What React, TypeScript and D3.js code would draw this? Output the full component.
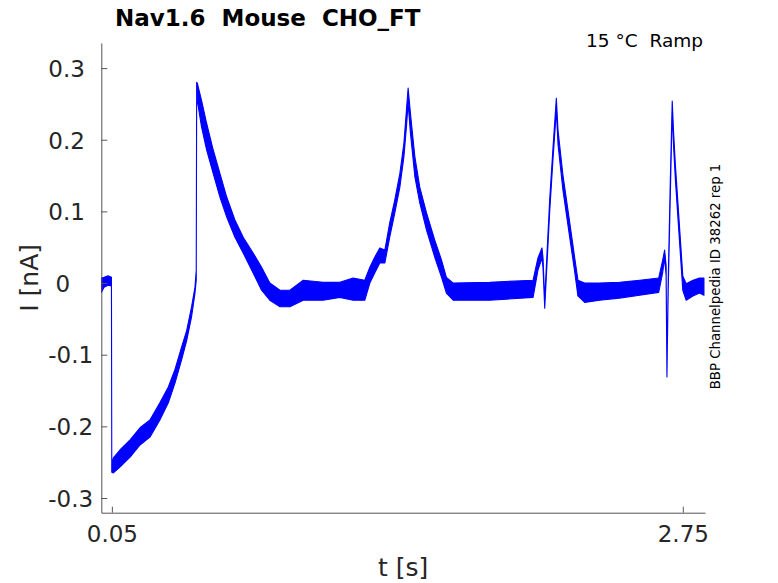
import React, { useRef, useEffect } from 'react'
import * as d3 from 'd3'

// envelope of the overlaid sweeps
// time [s], top and bottom of the trace band [nA]
const time = [
  0.001, 0.013, 0.032, 0.048, 0.0496, 0.057, 0.088, 0.136, 0.183, 0.23,
  0.277, 0.317, 0.348, 0.38, 0.404, 0.427, 0.443, 0.449, 0.451, 0.454,
  0.474, 0.498, 0.529, 0.561, 0.593, 0.632, 0.671, 0.718, 0.758, 0.797,
  0.845, 0.892, 0.955, 1.049, 1.128, 1.191, 1.246, 1.27, 1.293, 1.317,
  1.341, 1.364, 1.388, 1.412, 1.431, 1.443, 1.451, 1.462, 1.483, 1.506,
  1.538, 1.577, 1.609, 1.632, 1.664, 1.837, 2.042, 2.065, 2.084, 2.089,
  2.097, 2.105, 2.121, 2.136, 2.152, 2.16, 2.183, 2.215, 2.239, 2.254,
  2.286, 2.357, 2.451, 2.546, 2.636, 2.655, 2.664, 2.671, 2.675, 2.681,
  2.691, 2.7, 2.706, 2.715, 2.734, 2.75, 2.766, 2.798, 2.829, 2.85,
]
const upper = [
  0.007, 0.008, 0.01, 0.008, -0.254, -0.244, -0.233, -0.219, -0.202, -0.191,
  -0.167, -0.145, -0.121, -0.089, -0.066, -0.033, -0.006, 0.018, 0.28, 0.279,
  0.255, 0.223, 0.186, 0.153, 0.12, 0.088, 0.064, 0.042, 0.022, 0.0,
  -0.01, -0.01, 0.004, 0.001, 0.001, 0.007, 0.004, 0.022, 0.036, 0.049,
  0.046, 0.084, 0.116, 0.153, 0.195, 0.241, 0.272, 0.237, 0.176, 0.134,
  0.098, 0.06, 0.032, 0.008, 0.0, 0.001, 0.004, 0.035, 0.049, 0.035,
  -0.024, 0.025, 0.119, 0.188, 0.258, 0.213, 0.151, 0.085, 0.035, 0.004,
  0.0, 0.0, 0.001, 0.004, 0.007, 0.032, 0.046, 0.025, -0.121, 0.004,
  0.144, 0.254, 0.213, 0.165, 0.081, 0.01, -0.001, 0.004, 0.007, 0.007,
]
const lower = [
  -0.013, -0.006, -0.003, -0.004, -0.264, -0.265, -0.257, -0.243, -0.226, -0.215,
  -0.191, -0.167, -0.14, -0.107, -0.08, -0.047, -0.014, 0.004, 0.272, 0.255,
  0.218, 0.186, 0.153, 0.12, 0.092, 0.064, 0.042, 0.014, -0.01, -0.024,
  -0.033, -0.033, -0.024, -0.024, -0.02, -0.024, -0.024, 0.0, 0.014, 0.028,
  0.028, 0.064, 0.098, 0.134, 0.176, 0.218, 0.251, 0.209, 0.148, 0.112,
  0.074, 0.036, 0.008, -0.014, -0.024, -0.024, -0.02, 0.018, 0.035, 0.021,
  -0.035, 0.011, 0.102, 0.172, 0.241, 0.193, 0.13, 0.064, 0.015, -0.018,
  -0.027, -0.024, -0.021, -0.017, -0.013, 0.015, 0.035, 0.011, -0.131, -0.01,
  0.123, 0.241, 0.193, 0.144, 0.06, -0.01, -0.024, -0.018, -0.014, -0.017,
]

const xTicks = [0.05, 2.75]
const xTickLabels = ['0.05', '2.75']
const yTicks = [0.3, 0.2, 0.1, 0, -0.1, -0.2, -0.3]
// labels are left aligned, the zero carries a leading space
const yTickLabels = ['0.3', '0.2', '0.1', ' 0', '-0.1', '-0.2', '-0.3']

const W = 778
const H = 583
const font = '"DejaVu Sans", sans-serif'
const ink = '#262626'

const App: React.FC = () => {
  const svgRef = useRef<SVGSVGElement | null>(null)

  useEffect(() => {
    if (!svgRef.current) return
    const svg = d3.select(svgRef.current)
    svg.selectAll('*').remove()

    const left = 101.3
    const right = 705
    const top = 43
    const bottom = 512.7

    const x = d3.scaleLinear().domain([0, 2.855]).range([left, right])
    const y = d3.scaleLinear().domain([-0.3205, 0.335]).range([bottom, top])

    const pts = time.map((t, i) => ({ t, hi: upper[i], lo: lower[i] }))

    // trace band
    const band = d3.area<{ t: number; hi: number; lo: number }>()
      .x(d => x(d.t))
      .y0(d => y(d.lo))
      .y1(d => y(d.hi))

    svg.append('path')
      .datum(pts)
      .attr('d', band)
      .attr('fill', '#0000ff')
      .attr('stroke', '#0000ff')
      .attr('stroke-width', 1.1)
      .attr('stroke-linejoin', 'round')

    // axes, ticks pointing inward
    const yAxis = svg.append('g')
      .attr('transform', `translate(${left},0)`)
      .call(d3.axisLeft(y).tickValues(yTicks).tickSizeInner(-6).tickSizeOuter(0))
    yAxis.select('.domain').attr('stroke', '#555')
    yAxis.selectAll('.tick line').attr('stroke', '#555')
    yAxis.selectAll<SVGTextElement, number>('.tick text')
      .text((_, i) => yTickLabels[i])
      .attr('x', -53)
      .attr('dy', '0.36em')
      .attr('text-anchor', 'start')
      .attr('fill', ink)
      .style('white-space', 'pre')
      .style('font-family', font)
      .style('font-size', '23px')

    const xAxis = svg.append('g')
      .attr('transform', `translate(0,${bottom})`)
      .call(d3.axisBottom(x).tickValues(xTicks).tickSizeInner(-6).tickSizeOuter(0))
    xAxis.select('.domain').attr('stroke', '#555')
    xAxis.selectAll('.tick line').attr('stroke', '#555')
    xAxis.selectAll<SVGTextElement, number>('.tick text')
      .text((_, i) => xTickLabels[i])
      .attr('y', 29)
      .attr('dy', 0)
      .attr('fill', ink)
      .style('font-family', font)
      .style('font-size', '23px')

    // axis labels
    svg.append('text')
      .attr('x', (left + right) / 2)
      .attr('y', 576)
      .attr('text-anchor', 'middle')
      .attr('fill', ink)
      .style('font-family', font)
      .style('font-size', '25px')
      .text('t [s]')

    svg.append('text')
      .attr('transform', `translate(38,${(top + bottom) / 2}) rotate(-90)`)
      .attr('text-anchor', 'middle')
      .attr('fill', ink)
      .style('font-family', font)
      .style('font-size', '25px')
      .text('I [nA]')

    // title and annotations
    svg.append('text')
      .attr('x', 115)
      .attr('y', 26)
      .attr('fill', '#000')
      .style('font-family', font)
      .style('font-size', '23px')
      .style('font-weight', 'bold')
      .style('white-space', 'pre')
      .text('Nav1.6  Mouse  CHO_FT')

    svg.append('text')
      .attr('x', 703)
      .attr('y', 47)
      .attr('text-anchor', 'end')
      .attr('fill', '#000')
      .style('font-family', font)
      .style('font-size', '18.5px')
      .style('white-space', 'pre')
      .text('15 °C  Ramp')

    svg.append('text')
      .attr('transform', `translate(720,276.5) rotate(-90)`)
      .attr('text-anchor', 'middle')
      .attr('fill', '#000')
      .style('font-family', font)
      .style('font-size', '13.3px')
      .text('BBP Channelpedia ID 38262 rep 1')
  }, [])

  return (
    <svg
      ref={svgRef}
      width={W}
      height={H}
      style={{ position: 'absolute', left: 0, top: 0, background: '#fff' }}
    />
  )
}

export default App
